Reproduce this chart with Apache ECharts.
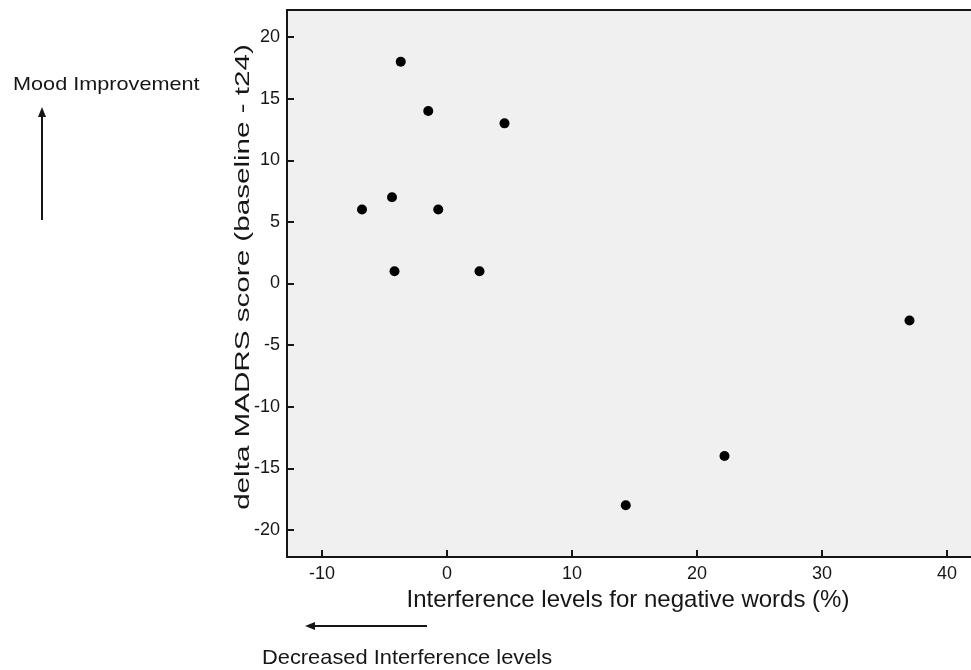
<!DOCTYPE html>
<html>
<head>
<meta charset="utf-8">
<script src="https://cdn.jsdelivr.net/npm/echarts@6/dist/echarts.min.js"></script>
<style>
  html, body { margin: 0; padding: 0; background: #fff; }
  #main { width: 971px; height: 670px; }
</style>
</head>
<body>
<div id="main"></div>
<script>
// interference levels (%) and delta MADRS score per patient
const interference = [-3.7, -1.5, 4.6, -4.4, -6.8, -0.7, -4.2, 2.6, 37.0, 22.2, 14.3]
const deltaMadrs = [18, 14, 13, 7, 6, 6, 1, 1, -3, -14, -18]
const xTicks = [-10, 0, 10, 20, 30, 40]
const yTicks = [-20, -15, -10, -5, 0, 5, 10, 15, 20]

const points = interference.map((x, i) => [x, deltaMadrs[i]])

const chartDom = document.getElementById('main')
const myChart = echarts.init(chartDom)
const font = 'Liberation Sans, Arial, sans-serif'
const ink = '#161616'

var option = {
  animation: false,
  grid: {
    left: 287,
    top: 10,
    bottom: 113,
    right: -40,
    show: true,
    backgroundColor: '#f0f0f0',
    borderColor: ink,
    borderWidth: 2,
    outerBoundsMode: 'none'
  },
  xAxis: {
    type: 'value',
    min: -12.8,
    max: 45.12,
    name: 'Interference levels for negative words (%)',
    nameLocation: 'middle',
    nameGap: 29,
    nameTextStyle: { fontFamily: font, fontSize: 24, color: ink, padding: [0, 42, 0, 0] },
    axisLine: { show: true, onZero: false, lineStyle: { color: ink, width: 2 } },
    axisTick: { show: true, inside: true, length: 7, customValues: xTicks, lineStyle: { color: ink, width: 2 } },
    axisLabel: { customValues: xTicks, margin: 8, fontFamily: font, fontSize: 18, color: ink },
    splitLine: { show: false }
  },
  yAxis: {
    type: 'value',
    min: -22.2,
    max: 22.2,
    axisLine: { show: true, onZero: false, lineStyle: { color: ink, width: 2 } },
    axisTick: { show: true, inside: true, length: 7, customValues: yTicks, lineStyle: { color: ink, width: 2 } },
    axisLabel: { customValues: yTicks, margin: 7, fontFamily: font, fontSize: 18, color: ink },
    splitLine: { show: false }
  },
  series: [
    {
      type: 'scatter',
      symbol: 'circle',
      symbolSize: 10,
      itemStyle: { color: '#000', opacity: 1 },
      data: points
    }
  ],
  graphic: [
    {
      // y axis title, stretched like the original
      type: 'text',
      x: 243,
      y: 277,
      rotation: Math.PI / 2,
      scaleX: 1.41,
      style: {
        text: 'delta MADRS score (baseline - t24)',
        font: '21px ' + font,
        fill: ink,
        align: 'center',
        verticalAlign: 'middle'
      }
    },
    {
      type: 'text',
      x: 13,
      y: 75,
      scaleX: 1.14,
      style: { text: 'Mood Improvement', font: '19px ' + font, fill: ink }
    },
    {
      type: 'line',
      shape: { x1: 42, y1: 220, x2: 42, y2: 114 },
      style: { stroke: ink, lineWidth: 2 }
    },
    {
      type: 'polygon',
      shape: { points: [[42, 107], [38, 117], [46, 117]] },
      style: { fill: ink }
    },
    {
      type: 'line',
      shape: { x1: 427, y1: 626, x2: 312, y2: 626 },
      style: { stroke: ink, lineWidth: 2 }
    },
    {
      type: 'polygon',
      shape: { points: [[305, 626], [315, 622], [315, 630]] },
      style: { fill: ink }
    },
    {
      type: 'text',
      x: 262,
      y: 648,
      scaleX: 1.04,
      style: { text: 'Decreased Interference levels', font: '21px ' + font, fill: ink }
    }
  ]
}
option && myChart.setOption(option)
</script>
</body>
</html>
